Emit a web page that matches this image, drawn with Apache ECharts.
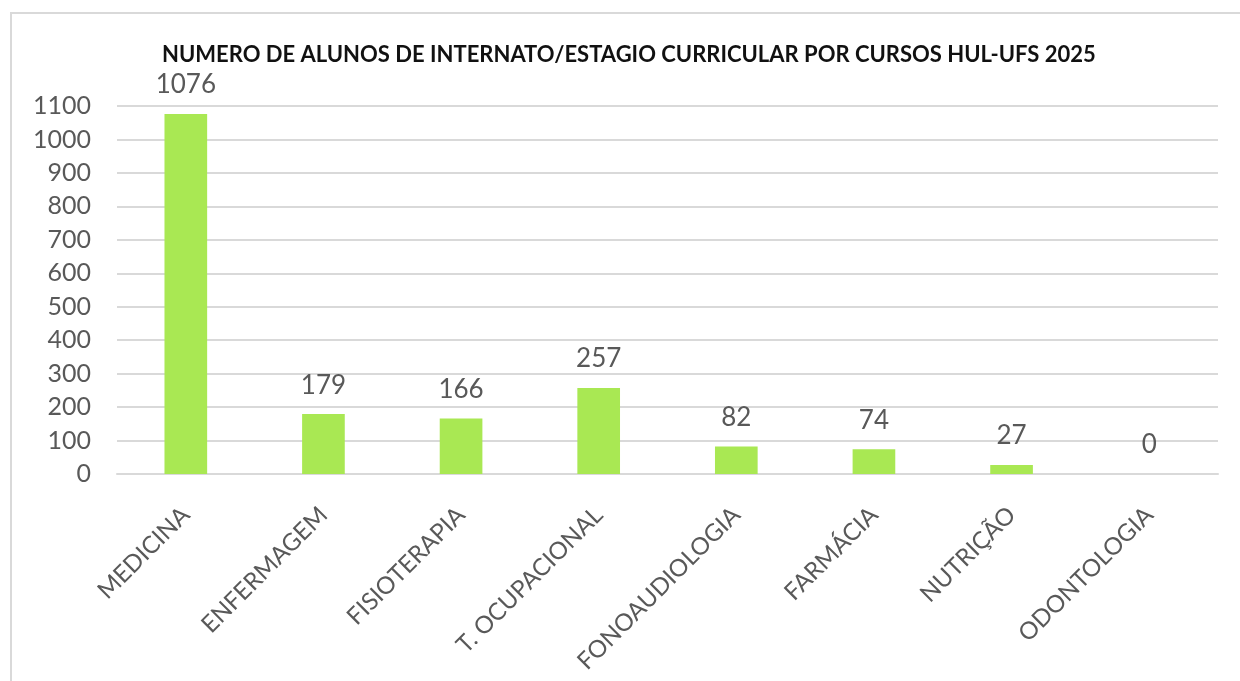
<html>
  <head>
    <meta charset="utf-8">
    <style>
      body { margin: 0; background: #fff; }
      #frame { position: absolute; left: 10px; top: 12px; width: 1240px; height: 680px; border: 2px solid #d9d9d9; box-sizing: border-box; }
      #chart { position: absolute; left: 0; top: 0; width: 1240px; height: 681px; }
    </style>
  </head>
  <body>
    <div id="frame"></div>
    <div id="chart"></div>
  </body>
  <script src="https://cdn.jsdelivr.net/npm/echarts@6/dist/echarts.min.js"></script>
  <script>

var cursos = ['MEDICINA', 'ENFERMAGEM', 'FISIOTERAPIA', 'T. OCUPACIONAL', 'FONOAUDIOLOGIA', 'FARMÁCIA', 'NUTRIÇÃO', 'ODONTOLOGIA'];
var alunos = [1076, 179, 166, 257, 82, 74, 27, 0];
var titulo = 'NUMERO DE ALUNOS DE INTERNATO/ESTAGIO CURRICULAR POR CURSOS HUL-UFS 2025';

var fonte = 'Lato, "Open Sans", sans-serif';

var option = {
  animation: false,
  title: {
    text: titulo,
    left: 157,
    top: 39,
    textStyle: { fontFamily: fonte, fontSize: 22, fontWeight: 'bold', color: '#111' }
  },
  grid: { left: 117, right: 22, top: 106, bottom: 207 },
  xAxis: {
    type: 'category',
    data: cursos,
    axisLine: { lineStyle: { color: '#d9d9d9', width: 2 } },
    axisTick: { show: false },
    axisLabel: {
      rotate: 45,
      margin: 37,
      interval: 0,
      fontFamily: fonte,
      fontSize: 24,
      color: '#595959'
    }
  },
  yAxis: {
    type: 'value',
    min: 0,
    max: 1100,
    interval: 100,
    axisLine: { show: false },
    axisTick: { show: false },
    splitLine: { lineStyle: { color: '#d9d9d9', width: 2 } },
    axisLabel: {
      margin: 26,
      fontFamily: fonte,
      fontSize: 25,
      color: '#595959',
      formatter: function (v) { return String(v); }
    }
  },
  series: [
    {
      type: 'bar',
      data: alunos,
      barWidth: '31%',
      itemStyle: { color: '#a9e853' },
      label: {
        show: true,
        position: 'top',
        distance: 16,
        fontFamily: fonte,
        fontSize: 26,
        color: '#595959'
      }
    }
  ]
};

var chart = echarts.init(document.getElementById('chart'));
chart.setOption(option);

  </script>
</html>
